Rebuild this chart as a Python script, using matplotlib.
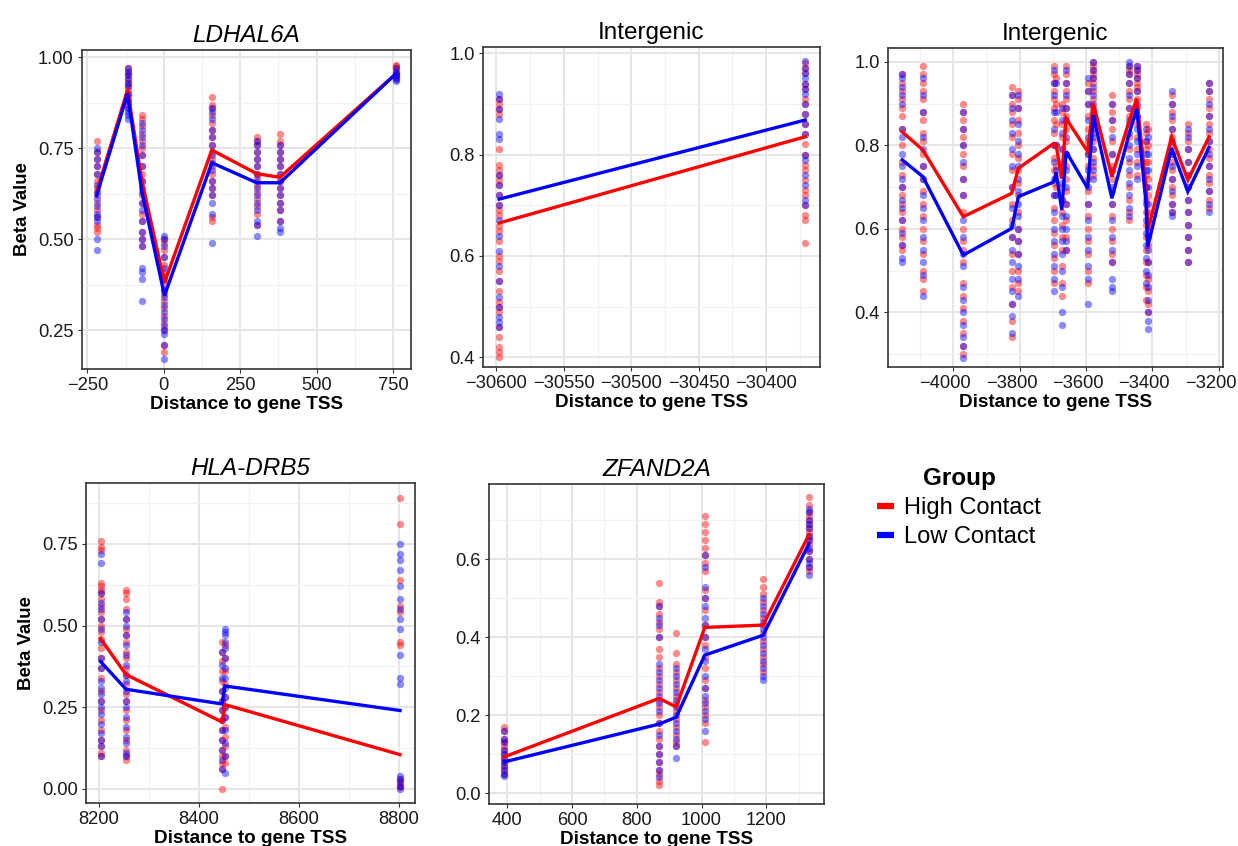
import numpy as np
import matplotlib
matplotlib.use("Agg")
import matplotlib.pyplot as plt
import matplotlib.transforms as mtransforms
from matplotlib.lines import Line2D
from matplotlib.ticker import FixedLocator, FuncFormatter

plt.rcParams['font.family'] = ['Liberation Sans', 'DejaVu Sans']

RED = '#FF0000'
BLUE = '#0000FF'

# ---- LDHAL6A ----
p1_x = [-220, -119, -72, 2, 157, 304, 380, 760]
p1_red_mean = [0.63, 0.91, 0.66, 0.38, 0.745, 0.68, 0.67, 0.955]
p1_blue_mean = [0.62, 0.90, 0.63, 0.345, 0.71, 0.655, 0.655, 0.955]
p1_red_pts = [
    [0.77, 0.74, 0.72, 0.70, 0.68, 0.66, 0.64, 0.62, 0.60, 0.58, 0.56, 0.54, 0.53, 0.52],
    [0.97, 0.96, 0.95, 0.94, 0.93, 0.92, 0.91, 0.90, 0.89, 0.88, 0.87, 0.86],
    [0.84, 0.83, 0.81, 0.79, 0.77, 0.75, 0.73, 0.70, 0.68, 0.66, 0.64, 0.62, 0.60, 0.57, 0.55, 0.52, 0.50, 0.48],
    [0.50, 0.49, 0.47, 0.45, 0.43, 0.41, 0.40, 0.38, 0.36, 0.35, 0.33, 0.31, 0.29, 0.27, 0.25, 0.21, 0.19],
    [0.89, 0.87, 0.86, 0.84, 0.82, 0.80, 0.78, 0.76, 0.74, 0.72, 0.70, 0.68, 0.66, 0.64, 0.62, 0.56, 0.55],
    [0.78, 0.77, 0.76, 0.74, 0.72, 0.70, 0.68, 0.67, 0.65, 0.63, 0.61, 0.59, 0.57, 0.54],
    [0.79, 0.77, 0.76, 0.74, 0.72, 0.70, 0.68, 0.66, 0.64, 0.62, 0.60, 0.58, 0.55],
    [0.98, 0.975, 0.97, 0.96, 0.955, 0.95, 0.94],
]
p1_blue_pts = [
    [0.75, 0.74, 0.72, 0.70, 0.68, 0.65, 0.63, 0.61, 0.59, 0.57, 0.56, 0.55, 0.50, 0.47],
    [0.97, 0.96, 0.95, 0.94, 0.93, 0.92, 0.90, 0.88, 0.86, 0.85, 0.84, 0.83],
    [0.82, 0.80, 0.78, 0.76, 0.73, 0.70, 0.66, 0.63, 0.60, 0.58, 0.55, 0.52, 0.50, 0.48, 0.42, 0.41, 0.39, 0.33],
    [0.51, 0.50, 0.48, 0.45, 0.42, 0.39, 0.36, 0.34, 0.32, 0.30, 0.28, 0.26, 0.25, 0.24, 0.21, 0.17],
    [0.86, 0.85, 0.83, 0.80, 0.78, 0.76, 0.73, 0.71, 0.69, 0.66, 0.64, 0.62, 0.60, 0.57, 0.49],
    [0.77, 0.76, 0.74, 0.72, 0.70, 0.68, 0.66, 0.64, 0.62, 0.60, 0.58, 0.55, 0.54, 0.51],
    [0.76, 0.74, 0.72, 0.70, 0.68, 0.66, 0.64, 0.62, 0.60, 0.58, 0.55, 0.53, 0.52],
    [0.97, 0.96, 0.955, 0.95, 0.945, 0.94, 0.935],
]

# ---- Intergenic (-30600) ----
p2_x = [-30598, -30371]
p2_red_mean = [0.665, 0.835]
p2_blue_mean = [0.712, 0.868]
p2_red_pts = [
    [0.91, 0.90, 0.89, 0.88, 0.81, 0.78, 0.77, 0.76, 0.75, 0.74, 0.72, 0.70, 0.69, 0.68, 0.66,
     0.65, 0.63, 0.60, 0.59, 0.57, 0.55, 0.53, 0.51, 0.50, 0.49, 0.46, 0.44, 0.42, 0.41, 0.40],
    [0.98, 0.97, 0.96, 0.94, 0.93, 0.91, 0.90, 0.88, 0.86, 0.84, 0.82, 0.80, 0.78, 0.77, 0.75,
     0.73, 0.72, 0.70, 0.68, 0.67, 0.625],
]
p2_blue_pts = [
    [0.92, 0.91, 0.89, 0.87, 0.84, 0.83, 0.76, 0.74, 0.72, 0.70, 0.67, 0.64, 0.61, 0.58, 0.55,
     0.52, 0.50, 0.48, 0.47, 0.46],
    [0.985, 0.97, 0.96, 0.95, 0.94, 0.93, 0.92, 0.90, 0.88, 0.86, 0.84, 0.80, 0.79, 0.76, 0.74,
     0.71, 0.70],
]

# ---- Intergenic (-4000) ----
p3_x = [-4154, -4092, -3970, -3824, -3804, -3698, -3690, -3673, -3660,
        -3595, -3578, -3522, -3469, -3447, -3419, -3414, -3342, -3293, -3229]
p3_red_mean = [0.832, 0.789, 0.629, 0.685, 0.745, 0.804, 0.80, 0.72, 0.864,
               0.785, 0.90, 0.725, 0.86, 0.912, 0.70, 0.595, 0.82, 0.717, 0.82]
p3_blue_mean = [0.765, 0.725, 0.537, 0.601, 0.677, 0.712, 0.735, 0.645, 0.785,
                0.697, 0.872, 0.673, 0.83, 0.888, 0.66, 0.557, 0.793, 0.689, 0.795]
p3_red_pts = [
    [0.97, 0.95, 0.93, 0.91, 0.89, 0.87, 0.84, 0.80, 0.76, 0.73, 0.70, 0.68, 0.66, 0.64, 0.62, 0.60, 0.58, 0.56, 0.55],
    [0.99, 0.97, 0.95, 0.93, 0.91, 0.88, 0.86, 0.83, 0.81, 0.78, 0.75, 0.72, 0.69, 0.66, 0.63, 0.60, 0.57, 0.54, 0.50, 0.48, 0.45],
    [0.90, 0.88, 0.86, 0.84, 0.82, 0.80, 0.78, 0.75, 0.72, 0.68, 0.64, 0.60, 0.57, 0.55, 0.52, 0.47, 0.44, 0.41, 0.38, 0.35, 0.32, 0.30],
    [0.94, 0.92, 0.90, 0.88, 0.85, 0.82, 0.78, 0.74, 0.70, 0.66, 0.62, 0.58, 0.54, 0.50, 0.46, 0.42, 0.38, 0.34],
    [0.93, 0.91, 0.89, 0.86, 0.83, 0.80, 0.77, 0.74, 0.71, 0.68, 0.64, 0.60, 0.57, 0.54, 0.50, 0.47, 0.45],
    [0.99, 0.97, 0.95, 0.93, 0.91, 0.89, 0.86, 0.83, 0.80, 0.77, 0.74, 0.71, 0.68, 0.65, 0.62, 0.59, 0.56, 0.53, 0.50, 0.47],
    [0.96, 0.90, 0.85, 0.80, 0.75, 0.70],
    [0.90, 0.88, 0.85, 0.82, 0.79, 0.76, 0.73, 0.70, 0.67, 0.64, 0.61, 0.58, 0.55, 0.51, 0.47, 0.44],
    [0.99, 0.97, 0.95, 0.93, 0.91, 0.89, 0.87, 0.84, 0.81, 0.78, 0.75, 0.72, 0.69, 0.66, 0.62, 0.58, 0.55],
    [0.95, 0.93, 0.90, 0.87, 0.84, 0.81, 0.78, 0.75, 0.72, 0.69, 0.66, 0.63, 0.60, 0.57, 0.54, 0.50, 0.47],
    [1.00, 0.99, 0.98, 0.97, 0.96, 0.95, 0.93, 0.91, 0.89, 0.87, 0.85, 0.83, 0.81, 0.79, 0.77, 0.75, 0.73],
    [0.92, 0.90, 0.88, 0.86, 0.84, 0.81, 0.78, 0.75, 0.72, 0.69, 0.66, 0.63, 0.60, 0.57, 0.54, 0.52],
    [0.99, 0.98, 0.97, 0.95, 0.93, 0.91, 0.89, 0.87, 0.85, 0.82, 0.79, 0.76, 0.73, 0.70, 0.67, 0.64, 0.62],
    [0.99, 0.98, 0.97, 0.96, 0.95, 0.94, 0.93, 0.91, 0.89, 0.87, 0.85, 0.82, 0.79, 0.76, 0.73],
    [0.85, 0.83, 0.81, 0.79, 0.76, 0.73, 0.70, 0.67, 0.64, 0.61, 0.58, 0.55, 0.52, 0.49, 0.46, 0.43],
    [0.84, 0.80, 0.76, 0.72, 0.68, 0.64, 0.60, 0.56, 0.52, 0.48, 0.45, 0.42, 0.40],
    [0.92, 0.90, 0.88, 0.86, 0.84, 0.82, 0.80, 0.78, 0.76, 0.74, 0.72, 0.70, 0.68, 0.66, 0.64],
    [0.85, 0.83, 0.81, 0.79, 0.76, 0.73, 0.70, 0.67, 0.64, 0.61, 0.58, 0.55, 0.52],
    [0.95, 0.93, 0.91, 0.89, 0.87, 0.85, 0.83, 0.81, 0.79, 0.77, 0.75, 0.73, 0.71, 0.69, 0.67, 0.65],
]
p3_blue_pts = [
    [0.97, 0.96, 0.94, 0.92, 0.90, 0.84, 0.82, 0.78, 0.75, 0.72, 0.70, 0.67, 0.65, 0.62, 0.59, 0.56, 0.53, 0.52],
    [0.96, 0.92, 0.88, 0.82, 0.79, 0.75, 0.72, 0.68, 0.65, 0.62, 0.58, 0.55, 0.52, 0.49, 0.44],
    [0.88, 0.84, 0.80, 0.76, 0.72, 0.68, 0.62, 0.58, 0.54, 0.51, 0.46, 0.43, 0.40, 0.37, 0.34, 0.32, 0.29],
    [0.92, 0.89, 0.86, 0.83, 0.79, 0.75, 0.70, 0.65, 0.61, 0.58, 0.55, 0.52, 0.48, 0.45, 0.42, 0.39, 0.35],
    [0.92, 0.89, 0.85, 0.81, 0.78, 0.75, 0.72, 0.69, 0.66, 0.63, 0.60, 0.57, 0.54, 0.51, 0.48, 0.44],
    [0.98, 0.95, 0.92, 0.88, 0.84, 0.80, 0.76, 0.72, 0.68, 0.64, 0.60, 0.57, 0.54, 0.51, 0.48, 0.45],
    [0.95, 0.88, 0.80, 0.74, 0.68],
    [0.89, 0.86, 0.83, 0.79, 0.75, 0.71, 0.67, 0.63, 0.60, 0.57, 0.54, 0.50, 0.46, 0.40, 0.37],
    [0.98, 0.95, 0.92, 0.89, 0.86, 0.82, 0.78, 0.74, 0.70, 0.66, 0.63, 0.60, 0.57, 0.55],
    [0.96, 0.93, 0.90, 0.86, 0.82, 0.78, 0.74, 0.70, 0.66, 0.62, 0.58, 0.55, 0.51, 0.48, 0.42],
    [1.00, 0.98, 0.96, 0.94, 0.92, 0.90, 0.88, 0.86, 0.84, 0.82, 0.79, 0.76, 0.74, 0.72],
    [0.90, 0.86, 0.82, 0.78, 0.74, 0.70, 0.66, 0.62, 0.58, 0.55, 0.52, 0.48, 0.46, 0.45],
    [1.00, 0.99, 0.97, 0.95, 0.92, 0.89, 0.86, 0.83, 0.80, 0.77, 0.74, 0.71, 0.68, 0.65, 0.63],
    [0.99, 0.98, 0.96, 0.93, 0.90, 0.87, 0.84, 0.81, 0.78, 0.75, 0.72],
    [0.84, 0.81, 0.78, 0.74, 0.70, 0.66, 0.62, 0.59, 0.56, 0.53, 0.50, 0.47],
    [0.82, 0.78, 0.74, 0.70, 0.66, 0.62, 0.58, 0.55, 0.52, 0.49, 0.46, 0.43, 0.40, 0.38, 0.36],
    [0.93, 0.90, 0.87, 0.84, 0.81, 0.78, 0.75, 0.72, 0.69, 0.66, 0.64, 0.63],
    [0.84, 0.82, 0.79, 0.76, 0.73, 0.70, 0.67, 0.64, 0.61, 0.58, 0.55, 0.52],
    [0.95, 0.93, 0.90, 0.87, 0.84, 0.81, 0.78, 0.75, 0.72, 0.69, 0.66, 0.64],
]

# ---- HLA-DRB5 ----
p4_x = [8203, 8254, 8446, 8452, 8802]
p4_red_mean = [0.46, 0.35, 0.205, 0.258, 0.105]
p4_blue_mean = [0.39, 0.305, 0.26, 0.315, 0.24]
p4_red_pts = [
    [0.76, 0.74, 0.73, 0.63, 0.62, 0.61, 0.60, 0.58, 0.56, 0.54, 0.52, 0.50, 0.48, 0.46, 0.43,
     0.40, 0.37, 0.34, 0.30, 0.27, 0.24, 0.21, 0.18, 0.15, 0.13, 0.11, 0.10],
    [0.61, 0.60, 0.58, 0.55, 0.52, 0.49, 0.47, 0.45, 0.42, 0.40, 0.37, 0.35, 0.32, 0.29, 0.27,
     0.24, 0.21, 0.18, 0.15, 0.12, 0.10, 0.09],
    [0.45, 0.42, 0.39, 0.36, 0.33, 0.30, 0.27, 0.24, 0.21, 0.18, 0.15, 0.12, 0.10, 0.08, 0.06, 0.00],
    [0.44, 0.40, 0.36, 0.32, 0.28, 0.25, 0.22, 0.19, 0.16, 0.13, 0.10, 0.08],
    [0.89, 0.81, 0.64, 0.56, 0.54, 0.45, 0.44, 0.03, 0.02, 0.01, 0.005],
]
p4_blue_pts = [
    [0.72, 0.69, 0.60, 0.57, 0.55, 0.52, 0.49, 0.45, 0.40, 0.37, 0.33, 0.31, 0.29, 0.27, 0.25,
     0.23, 0.20, 0.17, 0.15, 0.13, 0.10],
    [0.54, 0.52, 0.50, 0.47, 0.44, 0.41, 0.38, 0.35, 0.33, 0.30, 0.27, 0.25, 0.22, 0.19, 0.16,
     0.14, 0.11, 0.10],
    [0.42, 0.38, 0.34, 0.30, 0.27, 0.24, 0.21, 0.18, 0.15, 0.12, 0.09, 0.06],
    [0.49, 0.48, 0.47, 0.45, 0.43, 0.40, 0.37, 0.34, 0.31, 0.28, 0.25, 0.22, 0.18, 0.14, 0.10, 0.05],
    [0.75, 0.72, 0.70, 0.67, 0.62, 0.58, 0.55, 0.52, 0.49, 0.41, 0.34, 0.32, 0.04, 0.03, 0.02, 0.01, 0.0],
]

# ---- ZFAND2A ----
p5_x = [391, 869, 922, 1010, 1190, 1331]
p5_red_mean = [0.093, 0.243, 0.221, 0.425, 0.431, 0.662]
p5_blue_mean = [0.080, 0.177, 0.195, 0.354, 0.405, 0.639]
p5_red_pts = [
    [0.17, 0.16, 0.14, 0.13, 0.12, 0.11, 0.10, 0.09, 0.08, 0.07, 0.06, 0.05],
    [0.54, 0.49, 0.48, 0.46, 0.44, 0.42, 0.40, 0.37, 0.35, 0.32, 0.30, 0.28, 0.26, 0.24, 0.22,
     0.20, 0.18, 0.16, 0.14, 0.12, 0.10, 0.08, 0.06, 0.05, 0.03, 0.02],
    [0.41, 0.36, 0.33, 0.31, 0.29, 0.27, 0.25, 0.23, 0.21, 0.19, 0.17, 0.15, 0.13, 0.12],
    [0.71, 0.69, 0.67, 0.65, 0.63, 0.61, 0.59, 0.57, 0.52, 0.50, 0.47, 0.43, 0.40, 0.38, 0.35,
     0.32, 0.29, 0.27, 0.24, 0.22, 0.20, 0.18, 0.13],
    [0.55, 0.53, 0.51, 0.49, 0.47, 0.45, 0.43, 0.41, 0.39, 0.37, 0.35, 0.33, 0.31],
    [0.76, 0.74, 0.72, 0.71, 0.70, 0.69, 0.68, 0.67, 0.66, 0.65, 0.64, 0.62, 0.60, 0.58, 0.57],
]
p5_blue_pts = [
    [0.16, 0.14, 0.13, 0.11, 0.10, 0.09, 0.08, 0.07, 0.06, 0.05, 0.045],
    [0.48, 0.45, 0.43, 0.40, 0.33, 0.31, 0.29, 0.27, 0.25, 0.23, 0.21, 0.18, 0.15, 0.12, 0.10,
     0.08, 0.06, 0.04],
    [0.32, 0.30, 0.28, 0.26, 0.24, 0.22, 0.20, 0.18, 0.16, 0.14, 0.12, 0.09],
    [0.61, 0.58, 0.53, 0.50, 0.48, 0.45, 0.43, 0.40, 0.37, 0.34, 0.30, 0.27, 0.25, 0.23, 0.21,
     0.19, 0.16],
    [0.50, 0.48, 0.46, 0.44, 0.42, 0.40, 0.38, 0.36, 0.34, 0.32, 0.30, 0.29],
    [0.73, 0.72, 0.70, 0.69, 0.68, 0.66, 0.65, 0.63, 0.62, 0.60, 0.59, 0.58, 0.56],
]

W, H = 1238, 846


def px_axes(fig, x0, y0, x1, y1):
    """Add axes from pixel box (top-left origin)."""
    return fig.add_axes([x0 / W, 1 - y1 / H, (x1 - x0) / W, (y1 - y0) / H])


def minus(fmt):
    return FuncFormatter(lambda v, p: (fmt % v).replace('-', '\u2212'))


def draw_panel(ax, xs, red_pts, blue_pts, red_mean, blue_mean, title, italic,
               xlim, ylim, xticks, yticks, yfmt, ylabel=False):
    for x, r, b in zip(xs, red_pts, blue_pts):
        ax.scatter([x] * len(r), r, s=28, color=RED, alpha=0.45, lw=0, zorder=3)
        ax.scatter([x] * len(b), b, s=28, color=BLUE, alpha=0.45, lw=0, zorder=3)
    ax.plot(xs, red_mean, color=RED, lw=2.4, zorder=4, solid_joinstyle='miter')
    ax.plot(xs, blue_mean, color=BLUE, lw=2.4, zorder=4, solid_joinstyle='miter')

    ax.set_xlim(*xlim)
    ax.set_ylim(*ylim)
    ax.xaxis.set_major_locator(FixedLocator(xticks))
    ax.yaxis.set_major_locator(FixedLocator(yticks))
    dx = xticks[1] - xticks[0]
    dy = yticks[1] - yticks[0]
    ax.xaxis.set_minor_locator(FixedLocator(
        np.arange(xticks[0] - dx / 2, xticks[-1] + dx, dx)))
    ax.yaxis.set_minor_locator(FixedLocator(
        np.arange(yticks[0] - dy / 2, yticks[-1] + dy, dy)))
    ax.xaxis.set_major_formatter(minus('%.0f'))
    ax.yaxis.set_major_formatter(minus(yfmt))

    ax.grid(True, which='major', color='#E6E6E6', lw=1.4, zorder=0)
    ax.grid(True, which='minor', color='#F2F2F2', lw=0.9, zorder=0)
    ax.set_axisbelow(True)
    for s in ax.spines.values():
        s.set_color('#333333')
        s.set_linewidth(1.2)
    ax.tick_params(which='major', length=3, width=0.8, color='#333333',
                   labelsize=13.2, labelcolor='#1a1a1a', pad=3)
    ax.tick_params(which='minor', length=0)

    ax.set_title(title, fontsize=17.5, style='italic' if italic else 'normal',
                 pad=6)
    ax.set_xlabel('Distance to gene TSS', fontsize=13.6, fontweight='bold',
                  labelpad=1.5)
    if ylabel:
        ax.set_ylabel('Beta Value', fontsize=13.4, fontweight='bold', labelpad=5)


fig = plt.figure(figsize=(W / 100, H / 100), dpi=100)

ax1 = px_axes(fig, 82, 50, 411, 369)
draw_panel(ax1, p1_x, p1_red_pts, p1_blue_pts, p1_red_mean, p1_blue_mean,
           'LDHAL6A', True, (-268, 809), (0.143, 1.02),
           [-250, 0, 250, 500, 750], [0.25, 0.50, 0.75, 1.00], '%.2f', ylabel=True)

ax2 = px_axes(fig, 483, 47, 820, 367)
draw_panel(ax2, p2_x, p2_red_pts, p2_blue_pts, p2_red_mean, p2_blue_mean,
           'Intergenic', False, (-30610, -30360), (0.381, 1.012),
           [-30600, -30550, -30500, -30450, -30400], [0.4, 0.6, 0.8, 1.0], '%.1f')

ax3 = px_axes(fig, 888, 48, 1223, 367)
draw_panel(ax3, p3_x, p3_red_pts, p3_blue_pts, p3_red_mean, p3_blue_mean,
           'Intergenic', False, (-4197, -3187), (0.269, 1.033),
           [-4000, -3800, -3600, -3400, -3200], [0.4, 0.6, 0.8, 1.0], '%.1f')
# keep the last tick label inside the figure edge
shift = mtransforms.ScaledTranslation(-8 / 100, 0, fig.dpi_scale_trans)
for lab in ax3.get_xticklabels():
    lab.set_transform(lab.get_transform() + shift)

ax4 = px_axes(fig, 86, 483, 415, 803)
draw_panel(ax4, p4_x, p4_red_pts, p4_blue_pts, p4_red_mean, p4_blue_mean,
           'HLA-DRB5', True, (8174, 8832), (-0.043, 0.936),
           [8200, 8400, 8600, 8800], [0.00, 0.25, 0.50, 0.75], '%.2f', ylabel=True)

ax5 = px_axes(fig, 489, 484, 824, 804)
draw_panel(ax5, p5_x, p5_red_pts, p5_blue_pts, p5_red_mean, p5_blue_mean,
           'ZFAND2A', True, (344, 1378), (-0.028, 0.793),
           [400, 600, 800, 1000, 1200], [0.0, 0.2, 0.4, 0.6], '%.1f')

handles = [Line2D([], [], color=RED, lw=4.5, solid_capstyle='butt'),
           Line2D([], [], color=BLUE, lw=4.5, solid_capstyle='butt')]
leg = fig.legend(handles, ['High Contact', 'Low Contact'], loc='upper left',
                 bbox_to_anchor=(856 / W, 1 - 446 / H), frameon=False,
                 title='Group', fontsize=17, handlelength=0.7, handletextpad=0.45,
                 labelspacing=0.3,
                 title_fontproperties={'weight': 'bold', 'size': 17.5})

fig.savefig('out.png', dpi=100)
